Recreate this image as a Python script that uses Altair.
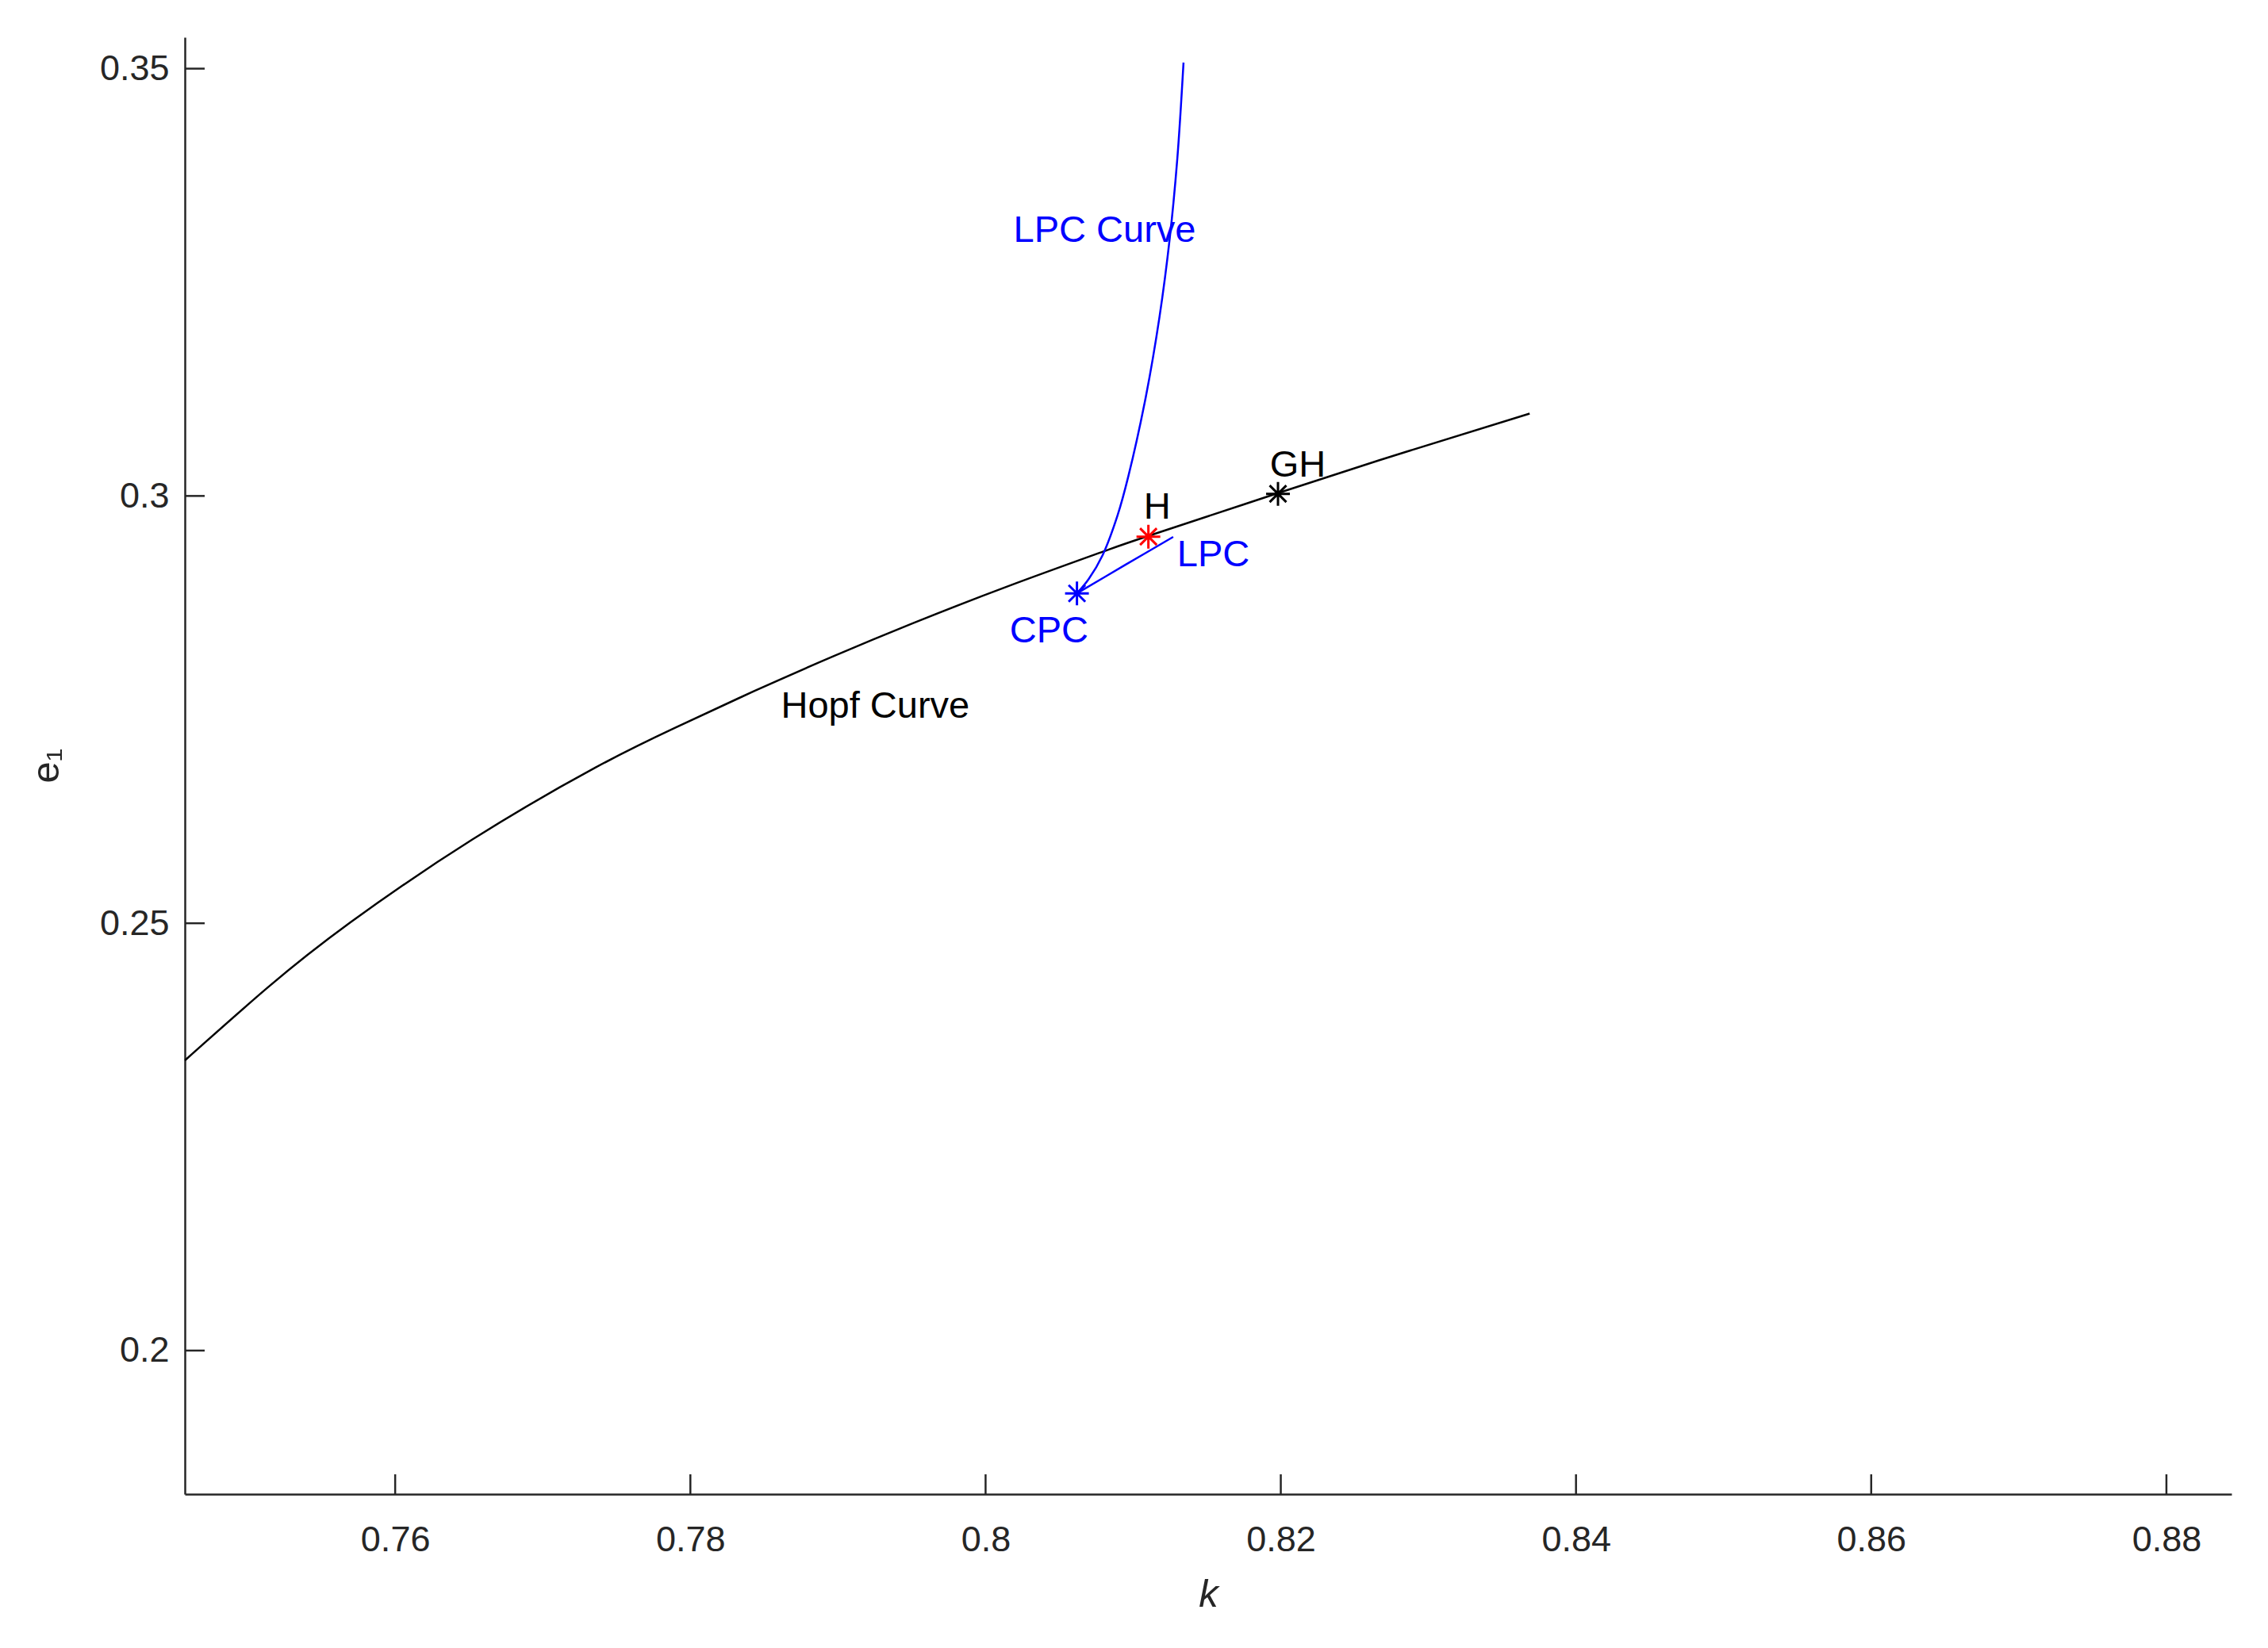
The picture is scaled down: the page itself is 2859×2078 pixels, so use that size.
import altair as alt
import pandas as pd

# ---- data ----
hopf_k = [0.74576, 0.75135, 0.75695, 0.76523, 0.77356, 0.77894, 0.78432, 0.78970,
          0.79507, 0.80153, 0.80798, 0.81103, 0.81981, 0.82831, 0.83686]
hopf_e1 = [0.23396, 0.24246, 0.25008, 0.25980, 0.26821, 0.27285, 0.27716, 0.28125,
           0.28510, 0.28944, 0.29350, 0.29532, 0.30033, 0.30507, 0.30964]

lpc_upper_k = [0.81341, 0.81299, 0.81248, 0.81178, 0.81086, 0.80968, 0.80894,
               0.80793, 0.80699, 0.80619]
lpc_upper_e1 = [0.35071, 0.33948, 0.33020, 0.32092, 0.31164, 0.30236, 0.29772,
                0.29308, 0.29029, 0.28860]
lpc_lower_k = [0.80619, 0.80945, 0.81271]
lpc_lower_e1 = [0.28860, 0.29192, 0.29521]

pt_names = ["CPC", "H", "GH"]
pt_k = [0.80619, 0.81103, 0.81981]
pt_e1 = [0.28860, 0.29524, 0.30025]
pt_colors = ["#0000FF", "#FF0000", "#000000"]

lab_text = ["LPC Curve", "H", "GH", "LPC", "CPC", "Hopf Curve"]
lab_k = [0.80189, 0.81071, 0.81926, 0.81297, 0.80163, 0.78614]
lab_e1 = [0.33099, 0.29863, 0.30355, 0.29307, 0.28417, 0.27537]
lab_colors = ["#0000FF", "#000000", "#000000", "#0000FF", "#0000FF", "#000000"]

x_ticks = [0.76, 0.78, 0.80, 0.82, 0.84, 0.86, 0.88]
y_ticks = [0.20, 0.25, 0.30, 0.35]
x_domain = [0.74575, 0.88441]
y_domain = [0.1832, 0.35367]

W, H = 2580, 1837
TICK = 25
FONT = "Liberation Sans"
AX = "#262626"

xs = alt.Scale(domain=x_domain, nice=False, zero=False)
ys = alt.Scale(domain=y_domain, nice=False, zero=False)
xaxis = alt.Axis(values=x_ticks, format="~g", title="k", ticks=False, grid=False,
                 labelPadding=35, titleFontStyle="italic", titleFontSize=49,
                 titleX=1290, titleY=141, titleBaseline="alphabetic",
                 titleFontWeight="normal")
yaxis = alt.Axis(values=y_ticks, format="~g", title="e₁", ticks=False, grid=False,
                 labelPadding=20, titleFontSize=49, titleAngle=270,
                 titleX=-160, titleY=918, titleBaseline="alphabetic",
                 titleFontWeight="normal")

X = alt.X("k:Q", scale=xs, axis=xaxis)
Y = alt.Y("e1:Q", scale=ys, axis=yaxis)

hopf_df = pd.DataFrame({"k": hopf_k, "e1": hopf_e1})
lpc_df = pd.DataFrame({
    "k": lpc_upper_k + lpc_lower_k,
    "e1": lpc_upper_e1 + lpc_lower_e1,
    "branch": ["u"] * len(lpc_upper_k) + ["l"] * len(lpc_lower_k),
    "i": list(range(len(lpc_upper_k))) + list(range(len(lpc_lower_k))),
})
pts_df = pd.DataFrame({"k": pt_k, "e1": pt_e1, "c": pt_colors, "n": pt_names})
lab_df = pd.DataFrame({"k": lab_k, "e1": lab_e1, "t": lab_text, "c": lab_colors})
xt_df = pd.DataFrame({"k": x_ticks})
yt_df = pd.DataFrame({"e1": y_ticks})

hopf = alt.Chart(hopf_df).mark_line(color="#000000", strokeWidth=2.5,
                                    interpolate="natural").encode(x=X, y=Y)
lpc = alt.Chart(lpc_df).mark_line(color="#0000FF", strokeWidth=2.5,
                                  interpolate="catmull-rom").encode(
    x=X, y=Y, detail="branch:N", order="i:Q")

star = "M0,-1L0,1M-1,0L1,0M-0.7,-0.7L0.7,0.7M-0.7,0.7L0.7,-0.7"
pts = alt.Chart(pts_df).mark_point(shape=star, filled=False, size=900,
                                   strokeWidth=3, opacity=1).encode(
    x=X, y=Y, color=alt.Color("c:N", scale=None))

labels = alt.Chart(lab_df).mark_text(font=FONT, fontSize=47, align="left",
                                     baseline="middle").encode(
    x=X, y=Y, text="t:N", color=alt.Color("c:N", scale=None))

# inward tick marks (MATLAB style)
xt = alt.Chart(xt_df).mark_rule(color=AX, strokeWidth=2.5).encode(
    x=X, y=alt.value(H), y2=alt.value(H - TICK))
yt = alt.Chart(yt_df).mark_rule(color=AX, strokeWidth=2.5).encode(
    y=Y, x=alt.value(0), x2=alt.value(TICK))

chart = alt.layer(hopf, lpc, pts, labels, xt, yt).properties(
    width=W, height=H,
    autosize=alt.AutoSizeParams(type="none"),
    padding={"left": 225, "top": 39, "right": 30, "bottom": 160},
    background="white",
).configure_view(stroke=None).configure_axis(
    domainColor=AX, domainWidth=2.5, labelColor=AX, labelFont=FONT,
    labelFontSize=45, titleFont=FONT, titleColor=AX,
)

chart.save("out.html", embed_options={"renderer": "svg", "actions": False})
